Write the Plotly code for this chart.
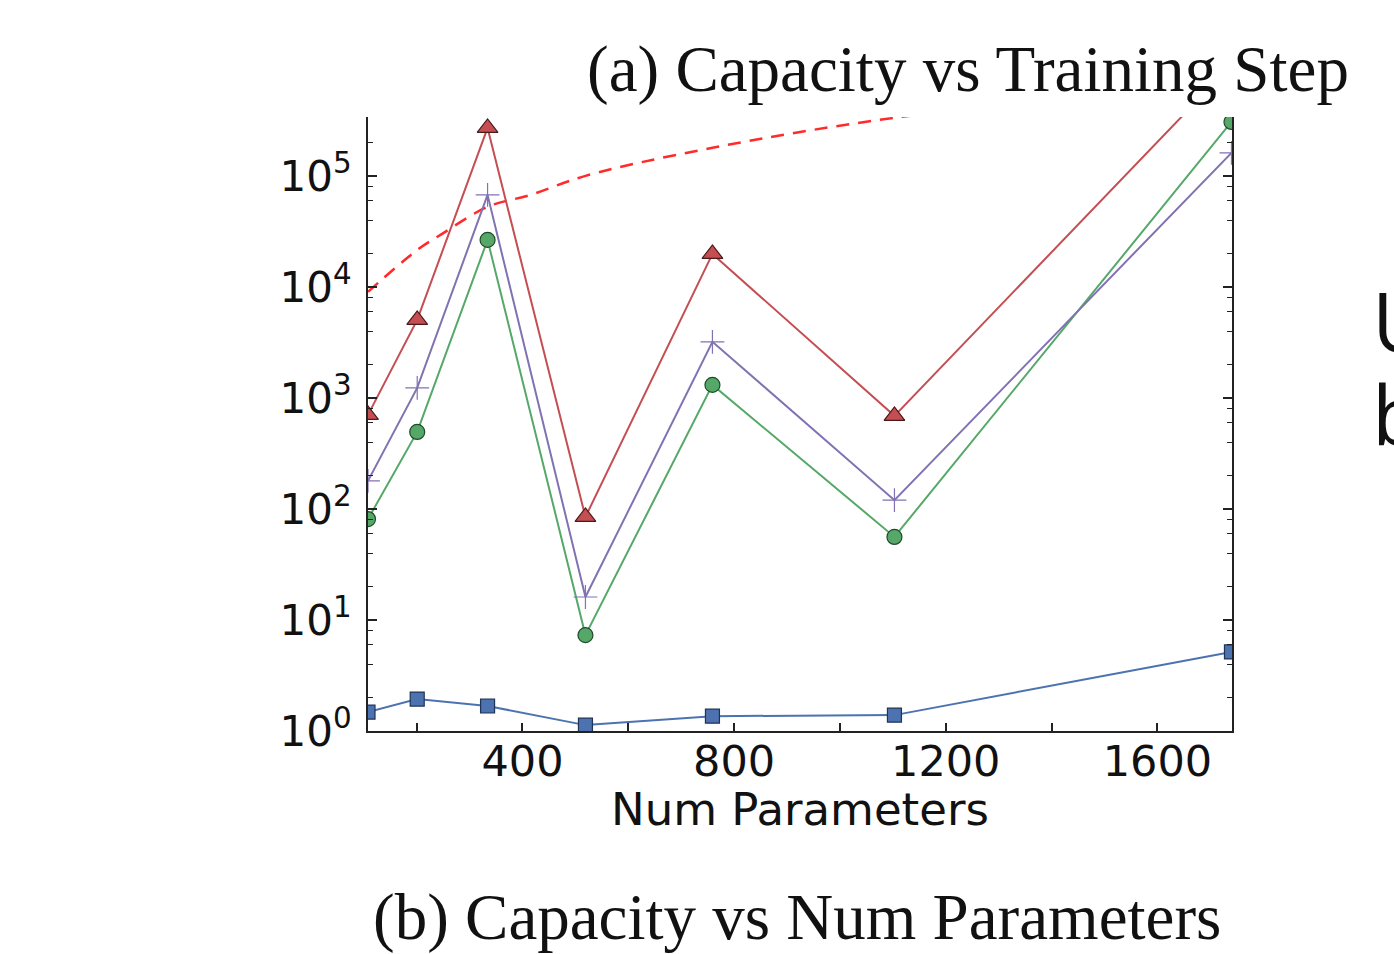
import plotly.graph_objects as go

# ---- data ----
num_params = [108, 201, 334, 519, 759, 1103, 1740]
blue_sq = [1.48, 1.94, 1.68, 1.13, 1.36, 1.39, 5.15]
green_circ = [81, 494, 26500, 7.3, 1310, 56, 306000]
purple_plus = [179, 1230, 67400, 16.1, 3200, 120, 161000]
red_tri = [703, 5040, 270000, 84.7, 19800, 689, 1000000]
dash_x = [108, 201, 245, 334, 415, 519, 759, 1103, 1740]
dash_y = [9020, 21500, 29400, 52600, 67400, 100000, 179000, 333000, 700000]

x_tickvals = [200, 400, 600, 800, 1000, 1200, 1400, 1600]
x_ticktext = ["", "400", "", "800", "", "1200", "", "1600"]
y_tickvals = [1, 10, 100, 1000, 10000, 100000]
y_ticktext = ["10<sup>0</sup>", "10<sup>1</sup>", "10<sup>2</sup>",
              "10<sup>3</sup>", "10<sup>4</sup>", "10<sup>5</sup>"]
y_minor = [m * 10 ** k for k in range(6) for m in (2, 4, 6, 8)]

RED = "#C44E52"
PURPLE = "#8172B2"
GREEN = "#55A868"
BLUE = "#4C72B0"

fig = go.Figure()
fig.add_trace(go.Scatter(x=dash_x, y=dash_y, mode="lines",
                         line=dict(color="#FF2A2A", width=2.5, dash="13px,9px", shape="spline"),
                         showlegend=False))
fig.add_trace(go.Scatter(x=num_params, y=blue_sq, mode="lines+markers",
                         line=dict(color=BLUE, width=2),
                         marker=dict(symbol="square", size=14, color=BLUE,
                                     line=dict(color="#1f3355", width=1.2)),
                         showlegend=False))
fig.add_trace(go.Scatter(x=num_params, y=green_circ, mode="lines+markers",
                         line=dict(color=GREEN, width=2),
                         marker=dict(symbol="circle", size=15, color=GREEN,
                                     line=dict(color="#1f4a2a", width=1.2)),
                         showlegend=False))
fig.add_trace(go.Scatter(x=num_params, y=purple_plus, mode="lines+markers",
                         line=dict(color=PURPLE, width=2),
                         marker=dict(symbol="cross-thin", size=17, color=PURPLE,
                                     line=dict(color=PURPLE, width=1.2)),
                         showlegend=False))
fig.add_trace(go.Scatter(x=num_params, y=red_tri, mode="lines+markers",
                         line=dict(color=RED, width=2),
                         marker=dict(symbol="triangle-up", size=18, color=RED,
                                     line=dict(color="#4a1a1a", width=1.2)),
                         showlegend=False))

XTICKFONT = dict(family="DejaVu Sans", size=43, color="#111111")
YTICKFONT = dict(family="DejaVu Sans", size=42, color="#111111")

fig.update_layout(
    width=1394, height=954,
    margin=dict(l=368, r=162, t=117, b=223),
    paper_bgcolor="white", plot_bgcolor="white",
    xaxis=dict(range=[108, 1741], showgrid=False, zeroline=False,
               showline=True, linecolor="#222222", linewidth=2, mirror=False,
               ticks="inside", ticklen=8, tickwidth=1.5, tickcolor="#222222",
               tickmode="array", tickvals=x_tickvals, ticktext=x_ticktext,
               tickfont=XTICKFONT, ticklabelstandoff=-9),
    yaxis=dict(type="log", range=[0, 5.53], showgrid=False, zeroline=False,
               showline=True, linecolor="#222222", linewidth=2, mirror="allticks",
               ticks="inside", ticklen=9, tickwidth=1.5, tickcolor="#222222",
               tickmode="array", tickvals=y_tickvals, ticktext=y_ticktext,
               tickfont=YTICKFONT, ticklabelstandoff=6,
               minor=dict(tickmode="array", tickvals=y_minor, ticks="inside",
                          ticklen=5, tickwidth=1.2, tickcolor="#222222")),
)

def px(xp):
    return (xp - 368) / 864.0

def py(yp):
    return (731 - yp) / 614.0

fig.add_annotation(text="Num Parameters", x=px(800), y=py(809), xref="paper", yref="paper",
                   xanchor="center", yanchor="middle", showarrow=False,
                   font=dict(family="DejaVu Sans", size=45, color="#111111"))
fig.add_annotation(text="(a) Capacity vs Training Step", x=px(968), y=py(69),
                   xref="paper", yref="paper", xanchor="center", yanchor="middle",
                   showarrow=False,
                   font=dict(family="Liberation Serif", size=65, color="#111111"))
fig.add_annotation(text="(b) Capacity vs Num Parameters", x=px(797), y=py(917),
                   xref="paper", yref="paper", xanchor="center", yanchor="middle",
                   showarrow=False,
                   font=dict(family="Liberation Serif", size=65, color="#111111"))
fig.add_annotation(text="U", x=px(1370), y=py(320), xref="paper", yref="paper",
                   xanchor="left", yanchor="middle", showarrow=False,
                   font=dict(family="Open Sans", size=82, color="#111111"))
fig.add_annotation(text="b", x=px(1370), y=py(413), xref="paper", yref="paper",
                   xanchor="left", yanchor="middle", showarrow=False,
                   font=dict(family="Open Sans", size=82, color="#111111"))

fig.write_html("out.html")
